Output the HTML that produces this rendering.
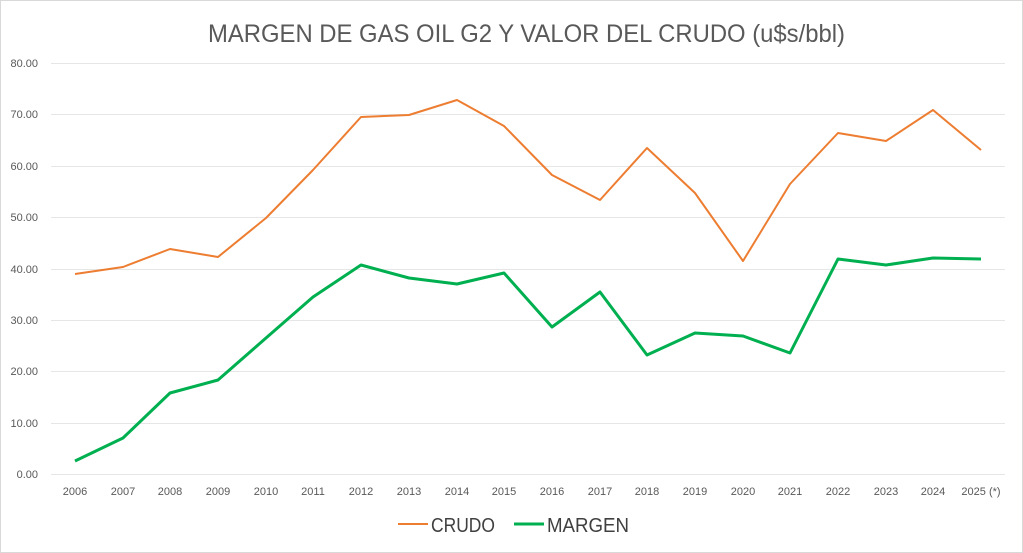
<!DOCTYPE html>
<html><head><style>
html,body{margin:0;padding:0;background:#fff}
svg{display:block;font-family:"Liberation Sans",sans-serif}
</style></head><body>
<svg width="1023" height="553" xmlns="http://www.w3.org/2000/svg">
<rect x="0.5" y="0.5" width="1022" height="552" fill="#fff" stroke="#d9d9d9"/>
<text x="208" y="42" font-size="25" fill="#595959" textLength="637" lengthAdjust="spacingAndGlyphs">MARGEN DE GAS OIL G2 Y VALOR DEL CRUDO (u$s/bbl)</text>
<g stroke="#e6e6e6" stroke-width="1">
<line x1="51" x2="1005" y1="474.5" y2="474.5"/>
<line x1="51" x2="1005" y1="423.5" y2="423.5"/>
<line x1="51" x2="1005" y1="371.5" y2="371.5"/>
<line x1="51" x2="1005" y1="320.5" y2="320.5"/>
<line x1="51" x2="1005" y1="269.5" y2="269.5"/>
<line x1="51" x2="1005" y1="217.5" y2="217.5"/>
<line x1="51" x2="1005" y1="166.5" y2="166.5"/>
<line x1="51" x2="1005" y1="114.5" y2="114.5"/>
<line x1="51" x2="1005" y1="63.5" y2="63.5"/>
</g>
<g font-size="11" fill="#595959" text-anchor="end">
<text x="38" y="478">0.00</text><text x="38" y="427">10.00</text><text x="38" y="375">20.00</text>
<text x="38" y="324">30.00</text><text x="38" y="273">40.00</text><text x="38" y="221">50.00</text>
<text x="38" y="170">60.00</text><text x="38" y="118">70.00</text><text x="38" y="67">80.00</text>
</g>
<g font-size="11" fill="#595959" text-anchor="middle">
<text x="75" y="495">2006</text><text x="123" y="495">2007</text><text x="170" y="495">2008</text>
<text x="218" y="495">2009</text><text x="266" y="495">2010</text><text x="313" y="495">2011</text>
<text x="361" y="495">2012</text><text x="409" y="495">2013</text><text x="457" y="495">2014</text>
<text x="504" y="495">2015</text><text x="552" y="495">2016</text><text x="600" y="495">2017</text>
<text x="647" y="495">2018</text><text x="695" y="495">2019</text><text x="743" y="495">2020</text>
<text x="790" y="495">2021</text><text x="838" y="495">2022</text><text x="886" y="495">2023</text>
<text x="933" y="495">2024</text><text x="981" y="495">2025 (*)</text>
</g>
<polyline fill="none" stroke="#ed7d31" stroke-width="2" stroke-linejoin="round"
points="75,274 123,267 170,249 218,257 266,218 313,170 361,117 409,115 457,100 504,126 552,175 600,200 647,148 695,193 743,261 790,184 838,133 886,141 933,110 981,150"/>
<polyline fill="none" stroke="#00b050" stroke-width="3" stroke-linejoin="round"
points="75,461 123,438 170,393 218,380 266,338 313,297 361,265 409,278 457,284 504,273 552,327 600,292 647,355 695,333 743,336 790,353 838,259 886,265 933,258 981,259"/>
<line x1="398" x2="428" y1="524" y2="524" stroke="#ed7d31" stroke-width="2"/>
<text x="431" y="532" font-size="20" fill="#404040" textLength="64" lengthAdjust="spacingAndGlyphs">CRUDO</text>
<line x1="514" x2="544" y1="524" y2="524" stroke="#00b050" stroke-width="3"/>
<text x="547" y="532" font-size="20" fill="#404040" textLength="82" lengthAdjust="spacingAndGlyphs">MARGEN</text>
</svg>
</body></html>
